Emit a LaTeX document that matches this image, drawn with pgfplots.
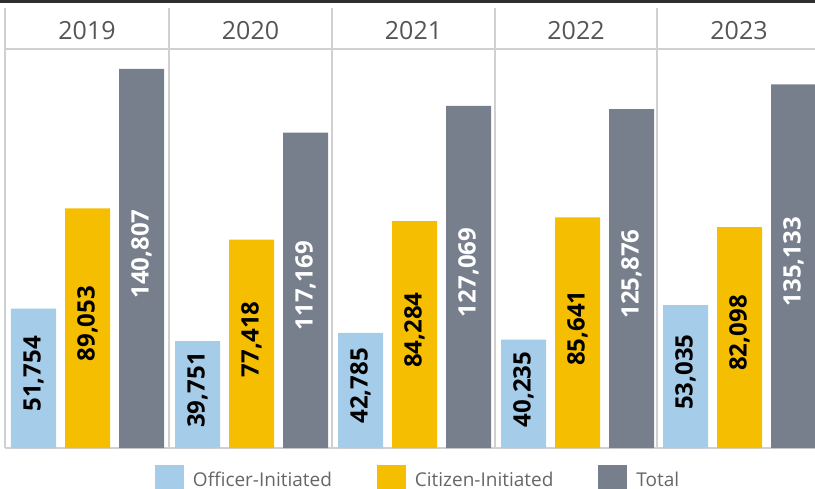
\documentclass[border=0pt]{standalone}
\usepackage{pgfplots}
\pgfplotsset{compat=1.18}
\usepackage{pgfplotstable}
\usepackage{fontspec}
\setmainfont{Open Sans}
\definecolor{offc}{HTML}{A5CCE8}
\definecolor{citc}{HTML}{F5BE00}
\definecolor{totc}{HTML}{787F8C}
\definecolor{gridc}{HTML}{D0D0D0}
\definecolor{yeartxt}{HTML}{555555}
\definecolor{legtxt}{HTML}{666666}
\definecolor{topbar}{HTML}{2E2E2E}

\pgfplotstableread{
x v
33.5 51754
197.5 39751
360.5 42785
523.5 40235
685.5 53035
}\officer
\pgfplotstableread{
x v
87.5 89053
251.5 77418
414.5 84284
577.5 85641
739.5 82098
}\citizen
\pgfplotstableread{
x v
141.5 140807
305.5 117169
468.5 127069
631.5 125876
793.5 135133
}\total

\begin{document}
\begin{tikzpicture}
\useasboundingbox (-5pt,-40pt) rectangle (810pt,448pt);
\fill[topbar] (-5pt,444.7pt) rectangle (810pt,448pt);
\begin{axis}[
  at={(0,0)}, anchor=south west,
  scale only axis, width=810pt, height=440pt,
  xmin=5, xmax=815, ymin=0, ymax=163468,
  axis lines=none, clip=false,
  bar width=45,
  /pgf/number format/fixed,
  /pgf/number format/precision=0,
  /pgf/number format/1000 sep={,},
  /pgf/number format/assume math mode=true,
  legend columns=3,
  legend cell align=left,
  legend style={at={(axis description cs:0.185185,-0.038636)}, anchor=north west,
    draw=none, fill=none, inner sep=0pt, outer sep=0pt,
    font=\fontsize{19}{22}\selectfont, text=legtxt,
    nodes={inner sep=0pt, anchor=base west},
    /tikz/every odd column/.append style={column sep=9pt},
    /tikz/every even column/.append style={column sep=45pt}},
]
\draw[gridc, line width=1.8pt] (axis cs:5,0) -- (axis cs:5,163468);
\draw[gridc, line width=1.8pt] (axis cs:169,0) -- (axis cs:169,163468);
\draw[gridc, line width=1.8pt] (axis cs:332,0) -- (axis cs:332,163468);
\draw[gridc, line width=1.8pt] (axis cs:494.7,0) -- (axis cs:494.7,163468);
\draw[gridc, line width=1.8pt] (axis cs:657,0) -- (axis cs:657,163468);
\draw[gridc, line width=1.2pt] (axis cs:5,148238) -- (axis cs:815,148238);
\draw[gridc, line width=1.2pt] (axis cs:5,0) -- (axis cs:815,0);

\node[text=yeartxt, font=\fontsize{25}{30}\selectfont] at (axis cs:87,155111) {2019};
\node[text=yeartxt, font=\fontsize{25}{30}\selectfont] at (axis cs:250.5,155111) {2020};
\node[text=yeartxt, font=\fontsize{25}{30}\selectfont] at (axis cs:413.5,155111) {2021};
\node[text=yeartxt, font=\fontsize{25}{30}\selectfont] at (axis cs:576,155111) {2022};
\node[text=yeartxt, font=\fontsize{25}{30}\selectfont] at (axis cs:739,155111) {2023};

\addplot[ybar, bar shift=0pt, fill=offc, draw=none,
  legend image code/.code={\fill[offc] (0pt,-8pt) rectangle (29pt,21pt);}]
  table[x=x, y=v]{\officer};
\addlegendentry{Officer-Initiated}
\addplot[ybar, bar shift=0pt, fill=citc, draw=none,
  legend image code/.code={\fill[citc] (0pt,-8pt) rectangle (29pt,21pt);}]
  table[x=x, y=v]{\citizen};
\addlegendentry{Citizen-Initiated}
\addplot[ybar, bar shift=0pt, fill=totc, draw=none,
  legend image code/.code={\fill[totc] (0pt,-8pt) rectangle (29pt,21pt);}]
  table[x=x, y=v]{\total};
\addlegendentry{Total}

\addplot[forget plot, draw=none, mark=none, nodes near coords, point meta=explicit,
  every node near coord/.append style={anchor=center, yshift=4.5pt, rotate=90,
    text=black, font=\bfseries\fontsize{24}{28}\selectfont, inner sep=0pt}]
  table[x=x, y expr=\thisrow{v}/2, meta=v]{\officer};
\addplot[forget plot, draw=none, mark=none, nodes near coords, point meta=explicit,
  every node near coord/.append style={anchor=center, yshift=4.5pt, rotate=90,
    text=black, font=\bfseries\fontsize{24}{28}\selectfont, inner sep=0pt}]
  table[x=x, y expr=\thisrow{v}/2, meta=v]{\citizen};
\addplot[forget plot, draw=none, mark=none, nodes near coords, point meta=explicit,
  every node near coord/.append style={anchor=center, yshift=4.5pt, rotate=90,
    text=white, font=\bfseries\fontsize{24}{28}\selectfont, inner sep=0pt}]
  table[x=x, y expr=\thisrow{v}/2, meta=v]{\total};
\end{axis}
\end{tikzpicture}
\end{document}
